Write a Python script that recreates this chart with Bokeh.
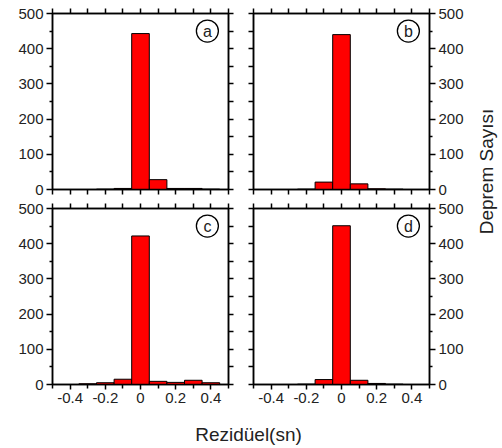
import math
from bokeh.plotting import figure
from bokeh.layouts import row, column
from bokeh.models import LinearAxis, FixedTicker, Range1d, Label
from bokeh.embed import file_html
from bokeh.resources import INLINE

# ---- data ----
bin_centers = [-0.4, -0.3, -0.2, -0.1, 0.0, 0.1, 0.2, 0.3, 0.4]
counts_a = [0, 0, 1, 3, 443, 28, 3, 3, 1]
counts_b = [0, 0, 1, 21, 440, 16, 2, 1, 0]
counts_c = [0, 2, 5, 15, 422, 9, 6, 12, 5]
counts_d = [0, 0, 1, 14, 451, 12, 3, 1, 0]
panel_letters = ["a", "b", "c", "d"]
x_major = [-0.4, -0.2, 0.0, 0.2, 0.4]
x_minor = [-0.5, -0.3, -0.1, 0.1, 0.3, 0.5]
y_major = [0, 100, 200, 300, 400, 500]
y_minor = [50, 150, 250, 350, 450]
x_tick_labels = {-0.4: "-0.4", -0.2: "-0.2", 0.0: "0", 0.2: "0.2", 0.4: "0.4"}
x_title = "Rezidüel(sn)"
y_title = "Deprem Sayısı"

FONT = "Liberation Sans"
TXT = "#222222"


def base_axis_style(ax):
    ax.major_tick_in = 0
    ax.minor_tick_in = 0
    ax.axis_line_color = "black"
    ax.axis_line_width = 1.5
    ax.major_tick_line_color = "black"
    ax.major_tick_line_width = 1.5
    ax.minor_tick_line_color = "black"
    ax.minor_tick_line_width = 1.5
    ax.major_label_text_font = FONT
    ax.major_label_text_color = TXT
    ax.major_label_text_font_size = "15px"
    ax.major_label_standoff = 3


def style_labeled(ax, is_x):
    base_axis_style(ax)
    if is_x:
        ax.ticker = FixedTicker(ticks=x_major, minor_ticks=x_minor)
        ax.major_label_overrides = x_tick_labels
        ax.major_tick_out = 5
        ax.minor_tick_out = 4
    else:
        ax.ticker = FixedTicker(ticks=y_major, minor_ticks=y_minor)
        ax.major_tick_out = 6
        ax.minor_tick_out = 3


def style_unlabeled(ax, is_x):
    # only "minor" ticks -> tick marks without any tick labels
    base_axis_style(ax)
    if is_x:
        ax.ticker = FixedTicker(ticks=[], minor_ticks=sorted(x_major + x_minor))
    else:
        ax.ticker = FixedTicker(ticks=[], minor_ticks=sorted(y_major + y_minor))
    ax.major_tick_out = 0
    ax.minor_tick_out = 5


def make_panel(counts, letter, y_side, show_x, w, h, bl, br, bt, bb):
    p = figure(width=w, height=h, x_range=Range1d(-0.5, 0.5), y_range=Range1d(0, 500),
               output_backend="svg", toolbar_location=None, title=None,
               x_axis_location="below", y_axis_location=y_side,
               min_border_left=bl, min_border_right=br,
               min_border_top=bt, min_border_bottom=bb)
    p.grid.visible = False
    p.outline_line_color = "black"
    p.outline_line_width = 1.5
    p.background_fill_color = "white"
    p.border_fill_color = "white"
    p.vbar(x=bin_centers, width=0.1, top=counts, bottom=0,
           fill_color="#ff0000", line_color="black", line_width=1)
    p.add_layout(LinearAxis(), "above")
    p.add_layout(LinearAxis(), "left" if y_side == "right" else "right")
    for ax in p.below:
        if show_x:
            style_labeled(ax, True)
        else:
            style_unlabeled(ax, True)
    for ax in p.above:
        style_unlabeled(ax, True)
    for ax in p.left:
        if y_side == "left":
            style_labeled(ax, False)
        else:
            style_unlabeled(ax, False)
    for ax in p.right:
        if y_side == "right":
            style_labeled(ax, False)
        else:
            style_unlabeled(ax, False)
    p.scatter(x=[0.38], y=[450], size=22, marker="circle", fill_color=None,
              line_color="black", line_width=1.3)
    p.add_layout(Label(x=0.38, y=450, text=letter, text_align="center",
                       text_baseline="middle", text_font=FONT,
                       text_font_size="16px", text_color=TXT))
    return p


pa = make_panel(counts_a, panel_letters[0], "left", False, 241, 199, 52, 13, 13, 10)
pb = make_panel(counts_b, panel_letters[1], "right", False, 229, 199, 12, 41, 13, 10)
pc = make_panel(counts_c, panel_letters[2], "left", True, 241, 212, 52, 13, 9, 27)
pd = make_panel(counts_d, panel_letters[3], "right", True, 229, 212, 12, 41, 9, 27)

# right title strip
pr = figure(width=32, height=411, x_range=Range1d(0, 32), y_range=Range1d(0, 411),
            output_backend="svg", toolbar_location=None, title=None,
            min_border_left=0, min_border_right=0, min_border_top=0, min_border_bottom=0)
pr.axis.visible = False
pr.grid.visible = False
pr.outline_line_color = None
pr.add_layout(Label(x=16, y=240, text=y_title, angle=math.pi / 2, text_align="center",
                    text_baseline="middle", text_font=FONT,
                    text_font_size="19px", text_color=TXT))

# bottom title strip
pbt = figure(width=502, height=37, x_range=Range1d(0, 502), y_range=Range1d(0, 37),
             output_backend="svg", toolbar_location=None, title=None,
             min_border_left=0, min_border_right=0, min_border_top=0, min_border_bottom=0)
pbt.axis.visible = False
pbt.grid.visible = False
pbt.outline_line_color = None
pbt.add_layout(Label(x=248, y=14, text=x_title, text_align="center",
                     text_baseline="middle", text_font=FONT,
                     text_font_size="19px", text_color=TXT))

layout = column(row(column(row(pa, pb), row(pc, pd)), pr), pbt)

open("out.html", "w").write(file_html(layout, INLINE))
